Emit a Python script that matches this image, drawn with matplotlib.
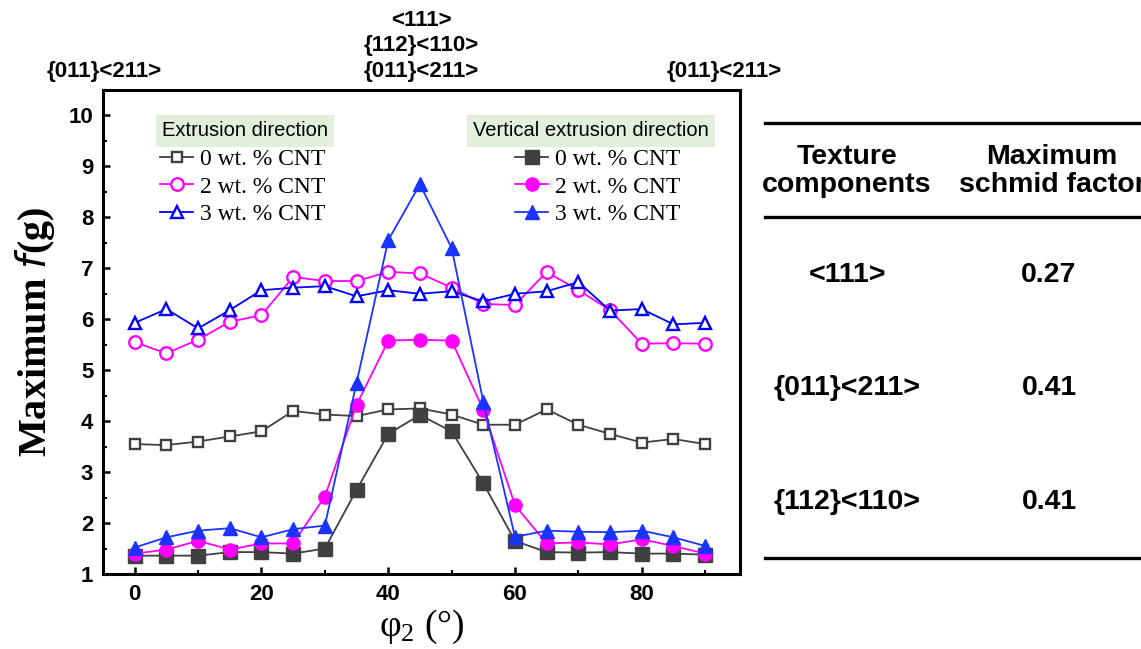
import numpy as np
import matplotlib.pyplot as plt
from matplotlib.lines import Line2D
from matplotlib.ticker import MultipleLocator

# data
phi2 = [0, 5, 10, 15, 20, 25, 30, 35, 40, 45, 50, 55, 60, 65, 70, 75, 80, 85, 90]

ed_0 = [3.55, 3.53, 3.60, 3.70, 3.80, 4.20, 4.13, 4.10, 4.23, 4.25, 4.13, 3.93, 3.93, 4.23, 3.93, 3.75, 3.58, 3.65, 3.55]
ed_2 = [5.55, 5.33, 5.60, 5.95, 6.08, 6.83, 6.75, 6.75, 6.93, 6.90, 6.62, 6.30, 6.28, 6.93, 6.57, 6.18, 5.52, 5.53, 5.52]
ed_3 = [5.93, 6.20, 5.82, 6.18, 6.57, 6.62, 6.65, 6.45, 6.57, 6.50, 6.55, 6.35, 6.50, 6.55, 6.73, 6.17, 6.20, 5.90, 5.93]

ved_0 = [1.36, 1.36, 1.36, 1.43, 1.43, 1.40, 1.50, 2.65, 3.75, 4.12, 3.80, 2.78, 1.65, 1.43, 1.42, 1.43, 1.40, 1.40, 1.38]
ved_2 = [1.40, 1.48, 1.65, 1.48, 1.60, 1.60, 2.52, 4.32, 5.58, 5.60, 5.58, 4.22, 2.35, 1.60, 1.62, 1.58, 1.68, 1.55, 1.40]
ved_3 = [1.52, 1.72, 1.85, 1.90, 1.72, 1.88, 1.95, 4.75, 7.55, 8.65, 7.40, 4.38, 1.73, 1.85, 1.83, 1.82, 1.85, 1.72, 1.55]

labels = ['0 wt. % CNT', '2 wt. % CNT', '3 wt. % CNT']
colors = ['#404040', '#ff00ff', '#0000ff']

tex_comp = ['<111>', '{011}<211>', '{112}<110>']
schmid = ['0.27', '0.41', '0.41']

fig = plt.figure(figsize=(11.41, 6.49), dpi=100)
W, H = 1141, 649
ax = fig.add_axes([103 / W, 1 - 574 / H, (740 - 103) / W, (574 - 90) / H])

ed_lines = []
for y, c, m in zip([ed_0, ed_2, ed_3], colors, ['s', 'o', '^']):
    ms = 7.5 if m == 's' else 9
    l, = ax.plot(phi2, y, color=c, lw=1.3, marker=m, ms=ms, mfc='white',
                 mec=c, mew=1.7, zorder=3)
    ed_lines.append(l)

ved_lines = []
for y, c, m in zip([ved_0, ved_2, ved_3], ['#404040', '#ff00ff', '#1a33ff'], ['s', 'o', '^']):
    l, = ax.plot(phi2, y, color=c, lw=1.3, marker=m, ms=9.5, mfc=c, mec=c, zorder=3)
    ved_lines.append(l)

ax.set_xlim(-5, 95.5)
ax.set_ylim(1, 10.5)
ax.xaxis.set_major_locator(MultipleLocator(20))
ax.xaxis.set_minor_locator(MultipleLocator(10))
ax.yaxis.set_major_locator(MultipleLocator(1))
ax.yaxis.set_minor_locator(MultipleLocator(0.5))
ax.tick_params(which='major', direction='in', length=5, width=1.8, pad=7)
ax.tick_params(which='minor', direction='in', length=3, width=1.5)
for s in ax.spines.values():
    s.set_linewidth(2.2)
for t in ax.get_xticklabels() + ax.get_yticklabels():
    t.set_fontfamily('Liberation Sans')
    t.set_fontweight('bold')
    t.set_fontsize(16)

ax.set_ylabel(r'Maximum $\mathit{f}$(g)', fontfamily='Liberation Serif',
              fontweight='bold', fontsize=29, labelpad=8)
ax.set_xlabel(r'$\mathregular{\varphi_2}$ (°)', fontfamily='Liberation Serif',
              fontsize=27, labelpad=2)

# legends
leg_font = {'family': 'Liberation Serif', 'size': 17}
leg_kw = dict(loc='upper left', frameon=False, prop=leg_font, handlelength=1.4,
              labelspacing=0.26, handletextpad=0.3, borderpad=0, borderaxespad=0)
leg1 = ax.legend(ed_lines, labels, bbox_to_anchor=(0.0895, 0.879), **leg_kw)
ax.add_artist(leg1)
ax.legend(ved_lines, labels, bbox_to_anchor=(0.647, 0.879), **leg_kw)

title_box = dict(boxstyle='square,pad=0.3', fc='#e2efda', ec='none')
fig.text(245 / W, 1 - 131 / H, 'Extrusion direction', ha='center', va='center',
         fontfamily='Liberation Sans', fontsize=14.5, bbox=title_box)
fig.text(591 / W, 1 - 131 / H, 'Vertical extrusion direction', ha='center', va='center',
         fontfamily='Liberation Sans', fontsize=14.5, bbox=title_box)

# texture annotations on top
ann_font = dict(fontfamily=['Liberation Sans Narrow', 'Liberation Sans'],
                fontweight='bold', fontsize=16, ha='center', va='center')
fig.text(104 / W, 1 - 71 / H, '{011}<211>', **ann_font)
fig.text(421 / W, 1 - 71 / H, '{011}<211>', **ann_font)
fig.text(421 / W, 1 - 46 / H, '{112}<110>', **ann_font)
fig.text(421 / W, 1 - 20 / H, '<111>', **ann_font)
fig.text(724 / W, 1 - 71 / H, '{011}<211>', **ann_font)

# table (right column is cut by the image edge, as in the original)
for yy in [123, 217, 558]:
    fig.add_artist(Line2D([765 / W, 1.0], [1 - yy / H, 1 - yy / H],
                          transform=fig.transFigure, color='black', lw=2.4))
tab_font = dict(fontfamily='Liberation Sans', fontweight='bold', fontsize=20.5,
                ha='center', va='center', linespacing=1.05)
fig.text(847 / W, 1 - 171 / H, 'Texture\ncomponents', **tab_font)
fig.text(1052 / W, 1 - 171 / H, 'Maximum\nschmid factor', **tab_font)
for yy, a, b in zip([275, 388, 502], tex_comp, schmid):
    fig.text(847 / W, 1 - yy / H, a, **tab_font)
    fig.text(1049 / W, 1 - yy / H, b, **tab_font)

fig.savefig('out.png', dpi=100)
